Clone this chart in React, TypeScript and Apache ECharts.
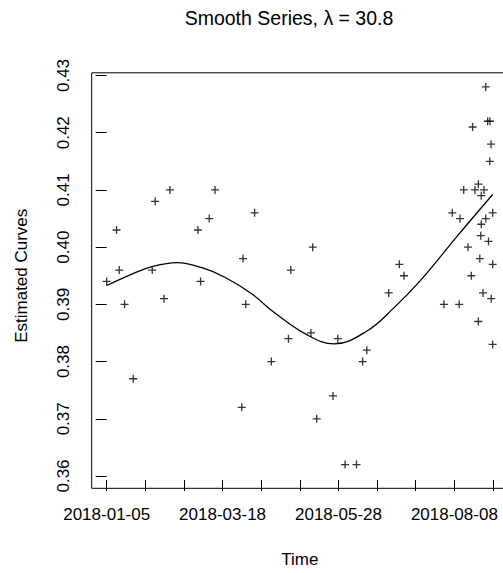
import React, { useEffect, useRef } from "react";
import * as echarts from "echarts";

// Observations: days since 2018-01-05 and observed values
const OBS_DAYS = [
  0, 6.1, 7.8, 11.1, 16.5, 28.3, 30.1, 35.6, 39.3, 56.7, 58.3, 63.7, 67.3,
  83.9, 84.7, 86.4, 91.9, 102.3, 112.9, 114.4, 126.9, 128.0, 130.5, 140.6,
  143.6, 148.1, 155.2, 159.0, 161.6, 175.2, 181.8, 184.7, 209.5, 214.7, 219.0,
  219.5, 221.8, 224.5, 226.5, 227.3, 228.8, 230.9, 230.9, 231.8, 232.4, 232.7,
  232.7, 233.8, 234.4, 235.5, 235.5, 236.7, 237.2, 238.1, 238.0, 238.8, 238.9,
  239.8, 239.8, 239.8,
];
const OBS_VALUES = [
  0.394, 0.403, 0.396, 0.39, 0.377, 0.396, 0.408, 0.391, 0.41, 0.403, 0.394,
  0.405, 0.41, 0.372, 0.398, 0.39, 0.406, 0.38, 0.384, 0.396, 0.385, 0.4, 0.37,
  0.374, 0.384, 0.362, 0.362, 0.38, 0.382, 0.392, 0.397, 0.395, 0.39, 0.406,
  0.39, 0.405, 0.41, 0.4, 0.395, 0.421, 0.41, 0.411, 0.387, 0.398, 0.402, 0.404,
  0.409, 0.392, 0.41, 0.428, 0.405, 0.422, 0.401, 0.422, 0.415, 0.418, 0.391,
  0.406, 0.397, 0.383,
];

// Smoothed curve
const CURVE_DAYS = [
  0, 15.7, 28.1, 43.7, 59.2, 73.7, 90.3, 103.5, 124.3, 141.4, 161.5, 178.1,
  194.7, 217.4, 239.8,
];
const CURVE_VALUES = [
  0.3933, 0.3953, 0.3966, 0.3973, 0.3964, 0.3947, 0.3918, 0.3887, 0.3847,
  0.3831, 0.3853, 0.3893, 0.3941, 0.4018, 0.4092,
];

// X tick labels (days since start -> label)
const X_LABEL_DAYS = [0, 72, 144, 216];
const X_LABEL_TEXTS = ["2018-01-05", "2018-03-18", "2018-05-28", "2018-08-08"];

const TITLE = "Smooth Series, \u03bb = 30.8";
const X_NAME = "Time";
const Y_NAME = "Estimated Curves";

const FONT = "'Liberation Sans', Arial, Helvetica, sans-serif";

export default function App() {
  const ref = useRef<HTMLDivElement>(null);
  useEffect(() => {
    if (!ref.current) return;
    const chart = echarts.init(ref.current, null, { renderer: "svg" });
    const scatterData = OBS_DAYS.map((d, i) => [d, OBS_VALUES[i]]);
    const curveData = CURVE_DAYS.map((d, i) => [d, CURVE_VALUES[i]]);
    chart.setOption({
      animation: false,
      backgroundColor: "#ffffff",
      textStyle: { fontFamily: FONT },
      grid: {
        left: 106.7,
        top: 75.5,
        width: 386.3,
        height: 408.8,
        containLabel: false,
      },
      xAxis: {
        type: "value",
        min: 0,
        max: 240,
        interval: 24,
        offset: 4,
        axisLine: { show: false },
        axisTick: { show: true, length: 11, lineStyle: { color: "#000", width: 1 } },
        splitLine: { show: false },
        axisLabel: {
          margin: 26,
          fontSize: 17,
          color: "#000",
          fontFamily: FONT,
          hideOverlap: false,
          showMinLabel: true,
          showMaxLabel: true,
          formatter: (v: number) => {
            const idx = X_LABEL_DAYS.indexOf(Math.round(v));
            return idx >= 0 ? X_LABEL_TEXTS[idx] : "";
          },
        },
        name: X_NAME,
        nameLocation: "middle",
        nameGap: 71,
        nameTextStyle: { fontSize: 17, color: "#000", fontFamily: FONT },
      },
      yAxis: {
        type: "value",
        min: 0.36,
        max: 0.43,
        interval: 0.01,
        offset: 15,
        axisLine: { show: false },
        axisTick: { show: true, length: 11, lineStyle: { color: "#000", width: 1 } },
        splitLine: { show: false },
        axisLabel: {
          rotate: 90,
          margin: 20,
          fontSize: 17,
          color: "#000",
          fontFamily: FONT,
          showMinLabel: true,
          showMaxLabel: true,
          formatter: (v: number) => v.toFixed(2),
        },
        name: Y_NAME,
        nameLocation: "middle",
        nameRotate: 90,
        nameGap: 62,
        nameTextStyle: { fontSize: 17, color: "#000", fontFamily: FONT },
      },
      graphic: [
        {
          type: "rect",
          silent: true,
          shape: { x: 91.7, y: 72.8, width: 420, height: 415.5 },
          style: { fill: "none", stroke: "#000", lineWidth: 1 },
        },
        {
          type: "text",
          x: 289,
          y: 18.2,
          style: {
            text: TITLE,
            fontSize: 19.5,
            fontFamily: FONT,
            fill: "#000",
            textAlign: "center",
            textVerticalAlign: "middle",
          },
        },
      ],
      series: [
        {
          type: "scatter",
          data: scatterData,
          symbol: "path://M0,5L10,5M5,0L5,10",
          symbolSize: 8,
          silent: true,
          clip: false,
          itemStyle: { color: "none", borderColor: "#000", borderWidth: 1.3 },
          z: 3,
        },
        {
          type: "line",
          data: curveData,
          smooth: 0.4,
          showSymbol: false,
          silent: true,
          clip: false,
          lineStyle: { color: "#000", width: 1.3 },
          z: 2,
        },
      ],
    });
    return () => chart.dispose();
  }, []);
  return (
    <div
      ref={ref}
      style={{ position: "fixed", left: 0, top: 0, width: 503, height: 573, background: "#fff" }}
    />
  );
}
